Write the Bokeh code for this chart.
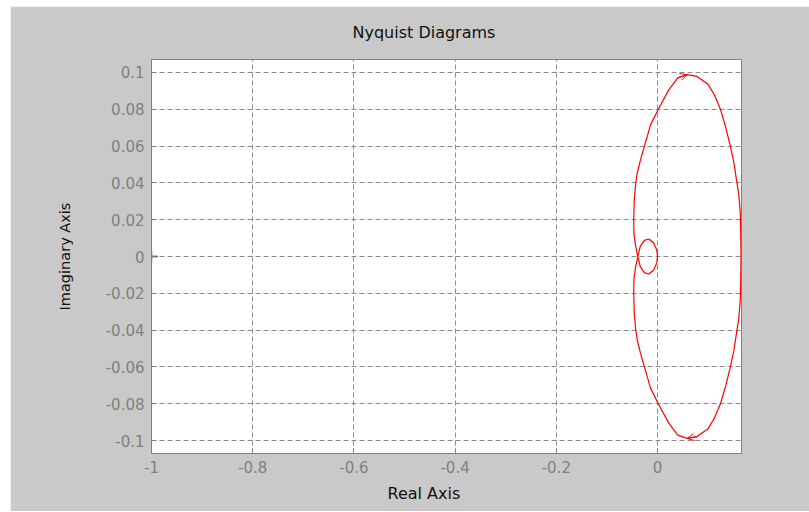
import numpy as np
from bokeh.plotting import figure
from bokeh.models import (FixedTicker, CustomJSTickFormatter, Title,
                          Arrow, OpenHead, ColumnDataSource, Range1d)
from bokeh.embed import file_html
from bokeh.resources import INLINE

# Frequency response, positive-frequency branch (w = 0 -> inf)
re_pos = [0.165, 0.1645, 0.1635, 0.1605, 0.157, 0.151, 0.144, 0.135, 0.1244,
          0.112, 0.100, 0.078, 0.0586, 0.040, 0.0223, 0.0026, -0.0138, -0.0237,
          -0.0336, -0.040, -0.0434, -0.046, -0.047, -0.0465, -0.0434, -0.039,
          -0.034, -0.026, -0.017, -0.0075, -0.0015, 0.0]
im_pos = [0.0, -0.012, -0.024, -0.034, -0.040, -0.051, -0.060, -0.070, -0.080,
          -0.088, -0.0935, -0.0978, -0.0988, -0.097, -0.0905, -0.0805, -0.0715,
          -0.062, -0.0525, -0.0455, -0.039, -0.030, -0.020, -0.012, -0.006, 0.0,
          0.0055, 0.0088, 0.0095, 0.0073, 0.0035, 0.0]

critical_re = [-1.0]
critical_im = [0.0]

x_ticks = [-1.0, -0.8, -0.6, -0.4, -0.2, 0.0]
y_ticks = [-0.1, -0.08, -0.06, -0.04, -0.02, 0.0, 0.02, 0.04, 0.06, 0.08, 0.1]

title_text = "Nyquist Diagrams"
x_label = "Real Axis"
y_label = "Imaginary Axis"

# Negative-frequency branch is the complex conjugate, traversed from w = -inf to 0
re_pos = np.array(re_pos)
im_pos = np.array(im_pos)
re_full = np.concatenate([re_pos[::-1], re_pos[1:]])
im_full = np.concatenate([-im_pos[::-1], im_pos[1:]])

GRAY_BG = "#c9c9c9"
AXIS_GRAY = "#808080"
FONT = "DejaVu Sans"

p = figure(width=799, height=505,
           x_range=Range1d(-1.0, 0.166), y_range=Range1d(-0.107, 0.107),
           output_backend="svg", toolbar_location=None,
           min_border_left=141, min_border_right=68,
           min_border_top=0, min_border_bottom=58,
           background_fill_color="white", border_fill_color=GRAY_BG,
           outline_line_color=AXIS_GRAY, outline_line_width=1,
           margin=(6, 0, 1, 10))

fmt = CustomJSTickFormatter(code="return String(Math.round(tick * 1000) / 1000);")

for ax, ticks in ((p.xaxis[0], x_ticks), (p.yaxis[0], y_ticks)):
    ax.ticker = FixedTicker(ticks=ticks)
    ax.formatter = fmt
    ax.axis_line_color = AXIS_GRAY
    ax.major_tick_line_color = AXIS_GRAY
    ax.major_tick_in = 5
    ax.major_tick_out = 0
    ax.minor_tick_line_color = None
    ax.major_label_text_font = FONT
    ax.major_label_text_font_size = "15px"
    ax.major_label_text_color = AXIS_GRAY
    ax.major_label_standoff = 7

# Vertical axis label
p.yaxis[0].axis_label = y_label
p.yaxis[0].axis_label_text_font = FONT
p.yaxis[0].axis_label_text_font_size = "14.5px"
p.yaxis[0].axis_label_text_font_style = "normal"
p.yaxis[0].axis_label_text_color = "#111111"
p.yaxis[0].axis_label_standoff = 30

for g in (p.xgrid[0], p.ygrid[0]):
    g.grid_line_color = "#8a8a8a"
    g.grid_line_dash = "5 3"
    g.grid_line_width = 1

# Nyquist curve
p.line(re_full, im_full, line_color="#ff0000", line_width=1.2)

# Direction arrows at the extreme imaginary points
i_top = int(np.argmax(im_full))
i_bot = int(np.argmin(im_full))
arrow_src = ColumnDataSource(dict(
    x0=[re_full[i_top - 1], re_full[i_bot - 1]],
    y0=[im_full[i_top - 1], im_full[i_bot - 1]],
    x1=[re_full[i_top], re_full[i_bot]],
    y1=[im_full[i_top], im_full[i_bot]],
))
p.add_layout(Arrow(source=arrow_src, x_start="x0", y_start="y0", x_end="x1", y_end="y1",
                   line_color="#ff0000", line_width=1,
                   end=OpenHead(size=7, line_color="#ff0000", line_width=1)))

# Critical point -1 + 0j
p.scatter(critical_re, critical_im, marker="cross", size=12,
          line_color="black", line_width=1.3)

# Title above the frame and horizontal axis label below it
p.add_layout(Title(text=x_label, align="left", offset=236, text_font=FONT,
                   text_font_size="16px", text_font_style="normal",
                   text_color="#111111", standoff=13), "below")
p.add_layout(Title(text=title_text, align="left", offset=201, text_font=FONT,
                   text_font_size="16px", text_font_style="normal",
                   text_color="#111111", standoff=32, vertical_align="top"), "above")

open("out.html", "w").write(file_html(p, INLINE))
